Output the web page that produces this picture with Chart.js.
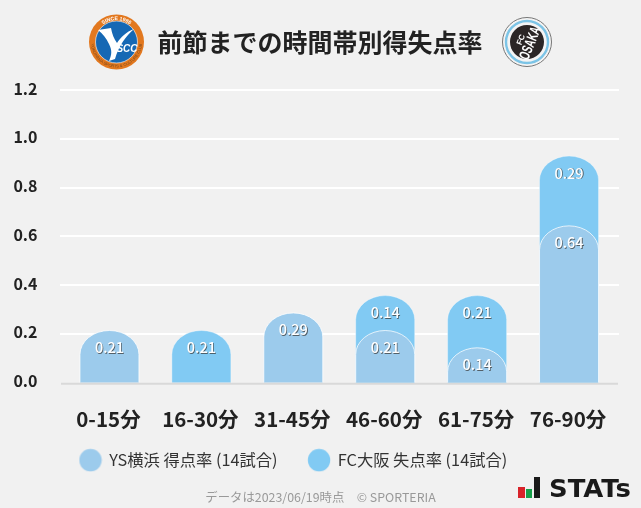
<!DOCTYPE html>
<html lang="ja"><head><meta charset="utf-8">
<style>
html,body{margin:0;padding:0;background:#f1f1f1;width:641px;height:508px;overflow:hidden}
#wrap{position:relative;width:641px;height:508px}
canvas{position:absolute;left:0;top:0}
.ov{position:absolute}
#foot{position:absolute;left:0;width:641px;top:489px;text-align:center;font:12.4px/16px "Noto Sans CJK JP";color:#999}
</style>
<script src="https://cdn.jsdelivr.net/npm/chart.js@4"></script>
</head><body><div id="wrap">
<canvas id="c" width="641" height="508"></canvas>
<svg class="ov" style="left:88px;top:14px" width="57" height="57" viewBox="0 0 57 57">
<circle cx="28.5" cy="28" r="27.5" fill="#e2781f"/>
<circle cx="28.5" cy="28" r="21" fill="#1668b4" stroke="#fff" stroke-width=".6"/>
<defs><path id="ringT" d="M6.5 28 A22 22 0 0 1 50.5 28"/><path id="ringB" d="M3 28 A25.5 25.5 0 0 0 54 28"/></defs>
<text font-family="Liberation Sans" font-weight="700" font-size="5.2" fill="#fff"><textPath href="#ringT" startOffset="50%" text-anchor="middle">SINCE 1986</textPath></text>
<text font-family="Liberation Sans" font-size="4" fill="#7a4a20"><textPath href="#ringB" startOffset="50%" text-anchor="middle">YOKOHAMA SPORTS &amp; CULTURE CLUB</textPath></text>
<path d="M10 16 L23 14 C24 20 26 25 29 29 C33 23 38 18 46 15 C38 22 31 31 27 45 L21 47 C24 40 24 36 21 30 C18 24 15 20 10 16 Z" fill="#fff"/>
<text x="39" y="38" font-family="Liberation Sans" font-style="italic" font-weight="700" font-size="10" fill="#fff" text-anchor="middle">SCC</text>
</svg>
<svg class="ov" style="left:502px;top:17px" width="50" height="50" viewBox="0 0 50 50">
<circle cx="25" cy="25" r="24.5" fill="#f4f4f4" stroke="#777" stroke-width="1"/>
<circle cx="25" cy="25" r="21" fill="#f4f4f4" stroke="#7cc4e6" stroke-width="2.4"/>
<circle cx="25" cy="25" r="17" fill="#2b2626"/>
<g transform="rotate(-68 25 25)" font-family="Liberation Sans" font-weight="700" fill="#fff" text-anchor="middle">
<text x="25" y="21" font-size="8">FC</text>
<text x="25" y="33" font-size="15" textLength="34" lengthAdjust="spacingAndGlyphs">OSAKA</text>
</g>
</svg>
<svg class="ov" style="left:516px;top:474px" width="120" height="28" viewBox="0 0 120 28">
<rect x="2" y="13" width="7" height="11" fill="#d8232a"/>
<rect x="10" y="15" width="6" height="9" fill="#17a04a"/>
<rect x="18" y="3" width="6" height="21" fill="#1a1a1a"/>
<text x="33" y="23" font-family="DejaVu Sans" font-weight="700" font-size="25" fill="#1a1a1a" textLength="82" lengthAdjust="spacingAndGlyphs">STATs</text>
</svg>
<div id="foot">データは2023/06/19時点　© SPORTERIA</div>
</div>
<script>
const categories = ["0-15分","16-30分","31-45分","46-60分","61-75分","76-90分"];
const ysValues = [0.214,0,0.286,0.214,0.143,0.643];
const fcValues = [0,0.214,0,0.143,0.214,0.286];
const yTicks = ["0.0","0.2","0.4","0.6","0.8","1.0","1.2"];
const seriesNames = ["YS横浜 得点率 (14試合)","FC大阪 失点率 (14試合)"];
const titleText = "前節までの時間帯別得失点率";
const ysColor = "#9ccbec";
const fcColor = "#81caf3";

// stacked tops: FC sits on YS and is drawn behind it, so it shows at YS's rounded shoulders
const fcTops = fcValues.map((v,i)=> v>0 ? +(v+ysValues[i]).toFixed(3) : null);
const ysTops = ysValues.map(v=> v>0 ? v : null);

// elliptical bar tops
const EH = 24;
Chart.BarElement.prototype.draw = function(ctx){
  const p = this.getProps(['x','y','base','width']);
  if (p.y == null || isNaN(p.y)) return;
  const l = p.x - p.width/2, r = p.x + p.width/2, h = Math.min(EH, p.base - p.y);
  ctx.save();
  ctx.beginPath();
  ctx.moveTo(l, p.base);
  ctx.lineTo(l, p.y + h);
  ctx.ellipse(p.x, p.y + h, p.width/2, h, 0, Math.PI, 2*Math.PI);
  ctx.lineTo(r, p.base);
  ctx.closePath();
  ctx.fillStyle = this.options.backgroundColor;
  ctx.fill();
  ctx.lineWidth = this.options.borderWidth;
  ctx.strokeStyle = this.options.borderColor;
  ctx.beginPath();
  ctx.moveTo(l, p.base);
  ctx.lineTo(l, p.y + h);
  ctx.ellipse(p.x, p.y + h, p.width/2, h, 0, Math.PI, 2*Math.PI);
  ctx.lineTo(r, p.base);
  ctx.stroke();
  ctx.restore();
};

function circleIcon(color){
  const c = document.createElement('canvas'); c.width = 24; c.height = 24;
  const g = c.getContext('2d'); g.fillStyle = color;
  g.beginPath(); g.arc(12,12,11.2,0,Math.PI*2); g.fill();
  return c;
}

const gridPlugin = {
  id:'gridPlugin',
  afterLayout(chart){
    const lg = chart.legend;
    lg.left = 49; lg.top = 421;
    chart.titleBlock.left = 25;
  },
  beforeDatasetsDraw(chart){
    const y = chart.scales.y, ctx = chart.ctx;
    ctx.save();
    ctx.strokeStyle = '#ffffff'; ctx.lineWidth = 2;
    y.ticks.forEach(t=>{
      if (t.value===0) return;
      const py = Math.round(y.getPixelForValue(t.value));
      ctx.beginPath(); ctx.moveTo(60,py); ctx.lineTo(619,py); ctx.stroke();
    });
    ctx.restore();
  },
  afterDatasetsDraw(chart){
    const ctx = chart.ctx, y = chart.scales.y;
    ctx.save();
    ctx.strokeStyle = '#d9d9d9'; ctx.lineWidth = 2;
    const py = y.getPixelForValue(0)+1;
    ctx.beginPath(); ctx.moveTo(61,py); ctx.lineTo(618,py); ctx.stroke();
    ctx.font = '500 14.5px "Noto Sans CJK JP"';
    ctx.textAlign = 'center'; ctx.textBaseline = 'middle';
    [[1,fcValues],[0,ysValues]].forEach(([di,vals])=>{
      const meta = chart.getDatasetMeta(di);
      meta.data.forEach((el,i)=>{
        if (!vals[i]) return;
        const tx = el.x, ty = el.y + 17;
        ctx.fillStyle = 'rgba(60,60,60,.75)';
        ctx.fillText(vals[i].toFixed(2), tx+0.8, ty+0.8);
        ctx.fillStyle = '#fff';
        ctx.fillText(vals[i].toFixed(2), tx, ty);
      });
    });
    ctx.restore();
  }
};

new Chart(document.getElementById('c'),{
  type:'bar',
  data:{labels:categories,datasets:[
    {label:seriesNames[0],data:ysTops,backgroundColor:ysColor,borderColor:'rgba(255,255,255,.75)',borderWidth:1,order:1,barThickness:59,grouped:false},
    {label:seriesNames[1],data:fcTops,backgroundColor:fcColor,borderColor:'rgba(255,255,255,.35)',borderWidth:1,order:2,barThickness:59,grouped:false}
  ]},
  options:{
    responsive:false,animation:false,devicePixelRatio:1,
    layout:{padding:{left:0,right:26,top:0,bottom:0}},
    plugins:{
      title:{display:true,text:titleText,color:'#222',font:{family:'"Noto Sans CJK JP"',size:25,weight:'700'},padding:{top:27,bottom:33}},
      legend:{position:'bottom',align:'start',labels:{
        usePointStyle:true,pointStyleWidth:21,padding:31,color:'#333',
        font:{family:'"Noto Sans CJK JP"',size:16.3},
        generateLabels(chart){
          return chart.data.datasets.map((d,i)=>({text:d.label,datasetIndex:i,fillStyle:d.backgroundColor,strokeStyle:d.backgroundColor,lineWidth:0,pointStyle:circleIcon(d.backgroundColor),fontColor:'#333'}));
        }
      }},
      tooltip:{enabled:false}
    },
    scales:{
      x:{grid:{display:false},border:{display:false},
        ticks:{color:'#222',padding:16,labelOffset:-1,maxRotation:0,font:{family:'"Noto Sans CJK JP"',size:20.5,weight:'700'}},
        afterFit(s){s.height=68;}
      },
      y:{min:0,max:1.2,grid:{display:false},border:{display:false},
        ticks:{stepSize:0.2,padding:18,labelOffset:-1.5,color:'#222',font:{family:'"Noto Sans CJK JP"',size:16,weight:'700'},
          callback(v,i){return yTicks[i];}},
        afterFit(s){s.width=63.5;}
      }
    }
  },
  plugins:[gridPlugin]
});
</script></body></html>
